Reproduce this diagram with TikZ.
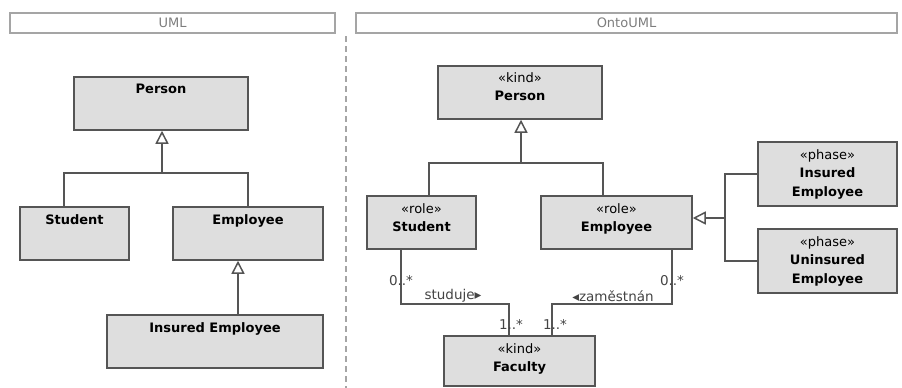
\documentclass[tikz,border=0pt]{standalone}
\usepackage{fontspec}
\setmainfont{DejaVu Sans}
\usetikzlibrary{arrows.meta,positioning}

\definecolor{boxfill}{RGB}{222,222,222}
\definecolor{boxline}{RGB}{85,85,85}
\definecolor{hdrline}{RGB}{165,165,165}
\definecolor{hdrtext}{RGB}{125,125,125}

\begin{document}
\begin{tikzpicture}[x=1pt,y=-1pt,
    >={Triangle[open,length=13pt,width=13pt]},
    cls/.style={draw=boxline,fill=boxfill,line width=1.5pt,inner sep=0pt},
    clsname/.style={font=\fontsize{13}{18.5}\selectfont,align=center,inner sep=1pt},
    hdr/.style={draw=hdrline,line width=1.2pt,minimum height=20pt,inner sep=0pt,
      text=hdrtext,font=\fontsize{13}{14}\selectfont},
    line/.style={draw=boxline,line width=1.5pt},
    gen/.style={line,->},
    mult/.style={font=\fontsize{13.5}{15}\selectfont,text=boxline!80!black,inner sep=1pt}]
    \useasboundingbox (0,0) rectangle (902,388);

    % headers
    \node[hdr,minimum width=325pt] (umlhdr) at (172.5,23) {UML};
    \node[hdr,minimum width=541pt] (ontohdr) at (626.5,23) {OntoUML};
    \coordinate (divtop) at (346,36);
    \coordinate (divbot) at (346,388);
    \draw[hdrline,line width=1.5pt,dash pattern=on 6pt off 4pt] (divtop) -- (divbot);

    % UML
    \node[cls,minimum width=174pt,minimum height=53pt] (uperson) at (161,103.5) {};
    \node[clsname,below=7pt of uperson.north] (upersonname) {\textbf{Person}};
    \node[cls,minimum width=109pt,minimum height=53pt] (ustudent) at (74.5,233.5) {};
    \node[clsname,below=7pt of ustudent.north] (ustudentname) {\textbf{Student}};
    \node[cls,minimum width=150pt,minimum height=53pt] (uemployee) at (248,233.5) {};
    \node[clsname,below=7pt of uemployee.north] (uemployeename) {\textbf{Employee}};
    \node[cls,minimum width=216pt,minimum height=53pt] (uinsured) at (215,341.5) {};
    \node[clsname,below=7pt of uinsured.north] (uinsuredname) {\textbf{Insured Employee}};

    \coordinate (uj) at (162,173);
    \coordinate (us) at ([xshift=-10.5pt]ustudent.north);
    \coordinate (ue) at ([xshift=-10pt]uemployee.south);
    \draw[line] (us) |- (uemployee.north |- uj) -- (uemployee.north);
    \draw[gen] (uj) -- (uperson.south -| uj);
    \draw[gen] (ue |- uinsured.north) -- (ue);

    % OntoUML
    \node[cls,minimum width=164pt,minimum height=53pt] (person) at (520,92.5) {};
    \node[clsname,below=6pt of person.north] (personname) {«kind»\\\textbf{Person}};
    \node[cls,minimum width=109pt,minimum height=53pt] (student) at (421.5,222.5) {};
    \node[clsname,below=7pt of student.north] (studentname) {«role»\\\textbf{Student}};
    \node[cls,minimum width=151pt,minimum height=53pt] (employee) at (616.5,222.5) {};
    \node[clsname,below=7pt of employee.north] (employeename) {«role»\\\textbf{Employee}};
    \node[cls,minimum width=139pt,minimum height=64pt] (insured) at (827.5,174) {};
    \node[clsname,below=7pt of insured.north] (insuredname) {«phase»\\\textbf{Insured}\\\textbf{Employee}};
    \node[cls,minimum width=139pt,minimum height=64pt] (uninsured) at (827.5,261) {};
    \node[clsname,below=7pt of uninsured.north] (uninsuredname) {«phase»\\\textbf{Uninsured}\\\textbf{Employee}};
    \node[cls,minimum width=151pt,minimum height=50pt] (faculty) at (519.5,361) {};
    \node[clsname,below=7pt of faculty.north] (facultyname) {«kind»\\\textbf{Faculty}};

    \coordinate (pj) at (521,163);
    \draw[line] ([xshift=7.5pt]student.north) |- (pj) -| ([xshift=-13.5pt]employee.north);
    \draw[gen] (pj) -- (person.south -| pj);

    \coordinate (phj) at (725,218);
    \draw[line] (insured.west) -| (phj) |- (uninsured.west);
    \draw[gen] (phj) -- (employee.east |- phj);

    \coordinate (s1) at (401,304);
    \coordinate (s2) at (509,304);
    \coordinate (e1) at (672,304);
    \coordinate (e2) at (552,304);
    \draw[line] (student.south -| s1) -- (s1) -- (s2) -- (faculty.north -| s2);
    \draw[line] (employee.south -| e1) -- (e1) -- (e2) -- (faculty.north -| e2);

    \node[mult] (sm) at (401,281) {0..*};
    \node[mult] (em) at (672,281) {0..*};
    \node[mult] (fs) at (511,324) {1..*};
    \node[mult] (fe) at (555,324) {1..*};
    \node[mult] (studuje) at (453,296) {studuje▸};
    \node[mult] (zam) at (613,296) {◂zaměstnán};
\end{tikzpicture}
\end{document}
